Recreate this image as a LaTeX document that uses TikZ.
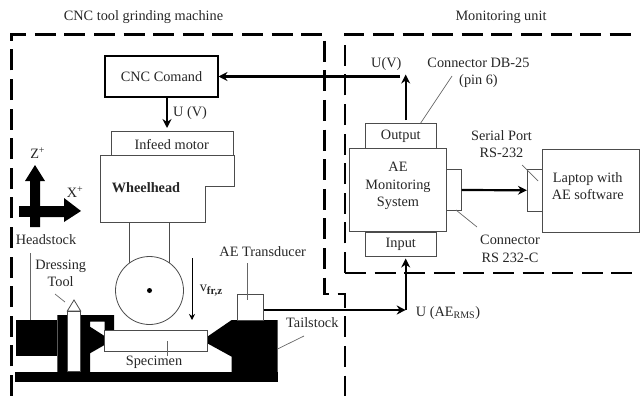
\documentclass[tikz,border=0pt]{standalone}
\usepackage{fontspec}
\setmainfont{Liberation Serif}
\usetikzlibrary{arrows.meta}
\tikzset{
	box/.style={draw=black!70, line width=0.8pt, fill=white, inner sep=0pt, align=center, text=black!85, font=\fontsize{14.3}{16}\selectfont},
	lbl/.style={inner sep=0pt, align=center, text=black!85, font=\fontsize{14.3}{16}\selectfont},
	frame/.style={line width=2.6pt, dash pattern=on 21pt off 8.6pt},
	wire/.style={line width=2.2pt, -{Stealth[length=9pt,width=9pt]}},
	leader/.style={draw=black!60, line width=0.7pt},
	solid black/.style={fill=black, draw=none},
}
\begin{document}
\begin{tikzpicture}[x=1pt,y=-1pt]
	\useasboundingbox (0,0) rectangle (640,396);
	
	% dashed frames
	\draw[frame] (11.5,396) -- (11.5,34.5) -- (324.5,34.5) -- (324.5,294) -- (345,294) -- (345,396);
	\draw[frame] (345,273) -- (345,34.5) -- (634,34.5);
	\draw[frame] (345,273) -- (636,273);
	\node[lbl] (machine) at (143.5,17) {CNC tool grinding machine};
	\node[lbl] (unit) at (501,17) {Monitoring unit};
	
	% machine bed, headstock and tailstock
	\fill[solid black] (16,320) rectangle (57,356);
	\fill[solid black] (57.3,315) -- (114,315) -- (114,330) -- (104.5,330) -- (104.5,321.7) -- (90,321.7) -- (90,326.7) -- (104.5,336) -- (104.5,345) -- (90,353.3) -- (90,372.5) -- (57.3,372.5) -- cycle;
	\fill[solid black] (15,372.3) rectangle (277.7,381.7);
	\fill[solid black] (277.7,320) -- (231.7,320) -- (207.3,336.7) -- (207.3,343.3) -- (231.7,356.7) -- (231.7,372.5) -- (277.7,372.5) -- cycle;
	
	% dressing tool
	\draw[box] (67.3,311) -- (74,300) -- (80.7,311) -- cycle;
	\draw[box] (67.3,311) rectangle (80.7,371);
	\coordinate (toolmark) at (65,302);
	\node[lbl] (dressing) at (60.7,273.5) {Dressing\\[1.5pt]Tool};
	\draw[leader] (55,294) -- (toolmark);
	
	% wheelhead with wheel
	\draw[box] (129.5,222) rectangle (169.5,270);
	\draw[box] (149.5,290.5) circle (34);
	\fill (149.5,290.5) circle (2.5);
	\node[box, minimum width=122pt, minimum height=24pt] (infeed) at (172,143) {};
	\node[lbl] (infeedtxt) at (171.7,145) {Infeed motor};
	\draw[box] (100,155) -- (234,155) -- (234,186) -- (205.5,186) -- (205.5,222) -- (100,222) -- cycle;
	\node[lbl, font=\fontsize{14.3}{16}\selectfont\bfseries] (wheelhead) at (146,188) {Wheelhead};
	
	% specimen
	\node[box, minimum width=103pt, minimum height=21.5pt] (specimen) at (156,340.7) {};
	\node[lbl] (spectxt) at (154,362) {Specimen};
	\draw[leader] (167.5,341) -- (167.5,356);
	
	% feed direction
	\coordinate (feedtop) at (192,258);
	\coordinate (feedend) at (192,320);
	\draw[line width=0.9pt, -{Stealth[length=6pt,width=6pt]}] (feedtop) -- (feedend);
	\node[lbl] (feed) at (211,291) {v\raisebox{-3pt}{\fontsize{11}{12}\selectfont\bfseries fr,z}};
	
	% axes
	\fill[solid black] (30,227) -- (30,181) -- (25,181) -- (35,165) -- (45,181) -- (40,181) -- (40,206) -- (64,206) -- (64,198) -- (81,211) -- (64,222) -- (64,217) -- (40,217) -- (40,227) -- cycle;
	\fill[solid black] (19,206) rectangle (40,217);
	\node[lbl] (zaxis) at (37.7,153) {Z\textsuperscript{+}};
	\node[lbl] (xaxis) at (75,192) {X\textsuperscript{+}};
	
	% headstock, tailstock and transducer labels
	\node[lbl] (headstock) at (46,240) {Headstock};
	\draw[leader] (30,253) -- (30,320);
	\node[box, minimum width=25.6pt, minimum height=25.7pt] (transducer) at (250.5,307.2) {};
	\node[lbl] (aetxt) at (262.7,252) {AE Transducer};
	\draw[leader] (247.5,263) -- (247.5,300);
	\node[lbl] (tailstock) at (312.3,323) {Tailstock};
	\draw[leader] (277.5,349) -- (304,336);
	
	% CNC command
	\node[draw, line width=2pt, minimum width=113pt, minimum height=41pt, lbl] (cnc) at (161.5,76.5) {CNC Comand};
	\coordinate (cncout) at (167,97);
	\coordinate (motorin) at (167,128);
	\draw[wire] (cncout) -- (motorin);
	\node[lbl] (uv) at (190,113) {U (V)};
	
	% monitoring system
	\node[box, minimum width=71.7pt, minimum height=24.3pt] (output) at (400.8,136) {Output};
	\node[box, minimum width=71.7pt, minimum height=24.7pt] (input) at (400.8,244.5) {Input};
	\node[box, minimum width=97pt, minimum height=83pt] (ae) at (398.2,189.5) {};
	\node[lbl] (aetxt2) at (398,186) {AE\\[1.5pt]Monitoring\\[1.5pt]System};
	\node[box, minimum width=14.6pt, minimum height=41.4pt] (connector) at (454,190) {};
	\node[box, minimum width=15pt, minimum height=42pt] (serial) at (534.8,190.3) {};
	\node[box, minimum width=96.7pt, minimum height=83pt] (laptop) at (590.7,190.8) {};
	\node[lbl] (laptoptxt) at (587.7,186) {Laptop with\\[1.5pt]AE software};
	
	% signal lines
	\coordinate (upline) at (405.7,120);
	\coordinate (uptip) at (405.7,74.5);
	\coordinate (backline) at (400,76.5);
	\coordinate (cncin) at (218.5,76.5);
	\draw[wire] (upline) -- (uptip);
	\draw[wire] (backline) -- (cncin);
	\draw[wire] (connector.east) -- (serial.west);
	\coordinate (corner) at (405.7,310);
	\coordinate (inputin) at (405.7,258.5);
	\draw[wire] (transducer.east |- corner) -- (corner);
	\draw[wire] (corner) -- (inputin);
	
	% labels right part
	\node[lbl] (uvtop) at (386.3,64) {U(V)};
	\node[lbl] (db) at (478.5,73) {Connector DB-25\\[1.5pt](pin 6)};
	\draw[leader] (420.7,123) -- (452,76);
	\node[lbl] (port) at (501.5,144) {Serial Port\\[1.5pt]RS-232};
	\draw[leader] (522,165) -- (538,181);
	\draw[leader] (456,210) -- (477,227);
	\node[lbl] (rs) at (510,249) {Connector\\[1.5pt]RS 232-C};
	\node[lbl] (rms) at (448,313) {U (AE\textsubscript{RMS})};
	
\end{tikzpicture}
\end{document}
